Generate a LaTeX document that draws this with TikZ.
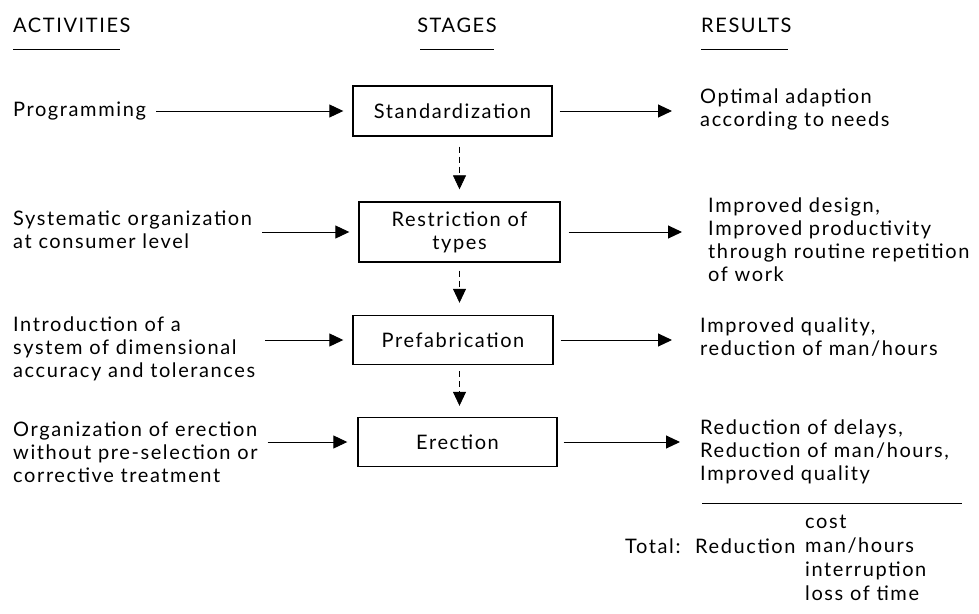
\documentclass[tikz,border=0pt]{standalone}
\usepackage{fontspec}
\setmainfont{Lato}[LetterSpace=8]
\usetikzlibrary{arrows.meta}
\begin{document}
\begin{tikzpicture}[x=1pt,y=-1pt,
  every node/.style={font=\fontsize{20}{23}\selectfont, inner sep=0pt},
  txt/.style={anchor=west, align=left},
  stage/.style={draw, line width=1.4pt, align=center, inner sep=0pt},
  conn/.style={line width=1pt, -{Triangle[length=14pt,width=13pt]}},
  flow/.style={line width=0.7pt, dash pattern=on 6pt off 4pt, -{Triangle[length=14pt,width=13pt]}},
  rule/.style={line width=1pt}
]
\useasboundingbox (0,0) rectangle (979,613);

% column headings
\node[txt] (hact) at (13,25) {ACTIVITIES};
\node (hsta) at (457,25) {STAGES};
\node[txt] (hres) at (701,25) {RESULTS};
\draw[rule] (13,49) -- (120,49);
\draw[rule] (420,49) -- (494,49);
\draw[rule] (701,49) -- (788,49);

% stages
\node[stage, minimum width=199pt, minimum height=50pt] (std) at (452.5,111) {Standardization};
\node[stage, minimum width=201pt, minimum height=60pt] (rst) at (459.5,232) {Restriction of\\types};
\node[stage, minimum width=200pt, minimum height=49pt] (pre) at (453,340) {Prefabrication};
\node[stage, minimum width=199pt, minimum height=49pt] (ere) at (457.5,442) {Erection};

% activities
\node[txt] (a1) at (13,111) {Programming};
\node[txt] (a2) at (13,230) {Systematic organization\\at consumer level};
\node[txt] (a3) at (13,349) {Introduction of a\\system of dimensional\\accuracy and tolerances};
\node[txt] (a4) at (13,452) {Organization of erection\\without pre-selection or\\corrective treatment};

% results
\node[txt] (r1) at (700,109) {Optimal adaption\\according to needs};
\node[txt] (r2) at (708,240) {Improved design,\\Improved productivity\\through routine repetition\\of work};
\node[txt] (r3) at (700,337.5) {Improved quality,\\reduction of man/hours};
\node[txt] (r4) at (700,452) {Reduction of delays,\\Reduction of man/hours,\\Improved quality};

% activity -> stage
\draw[conn, shorten <=10pt, shorten >=9pt] (a1.east |- std.west) -- (std.west);
\draw[conn, shorten <=10pt, shorten >=9pt] (a2.east |- rst.west) -- (rst.west);
\draw[conn, shorten <=10pt, shorten >=9pt] (a3.east |- pre.west) -- (pre.west);
\draw[conn, shorten <=10pt, shorten >=10pt] (a4.east |- ere.west) -- (ere.west);

% stage -> result
\draw[conn, shorten <=7pt, shorten >=28pt] (std.east) -- (r1.west |- std.east);
\draw[conn, shorten <=8pt, shorten >=26pt] (rst.east) -- (r2.west |- rst.east);
\draw[conn, shorten <=7pt, shorten >=28pt] (pre.east) -- (r3.west |- pre.east);
\draw[conn, shorten <=6pt, shorten >=20pt] (ere.east) -- (r4.west |- ere.east);

% stage sequence
\draw[flow, shorten <=10pt, shorten >=12pt] (std.south -| rst.north) -- (rst.north);
\draw[flow, shorten <=8pt, shorten >=12pt] (rst.south) -- (rst.south |- pre.north);
\draw[flow, shorten <=6pt, shorten >=11pt] (pre.south -| rst.south) -- (ere.north -| rst.south);

% summary
\draw[rule] (702,503) -- (962,503);
\node[txt] (tot) at (625,546) {Total:};
\node[txt] (red) at (695,546) {Reduction};
\node[txt, font=\fontsize{20}{24}\selectfont] (items) at (805,558) {cost\\man/hours\\interruption\\loss of time};
\end{tikzpicture}
\end{document}
